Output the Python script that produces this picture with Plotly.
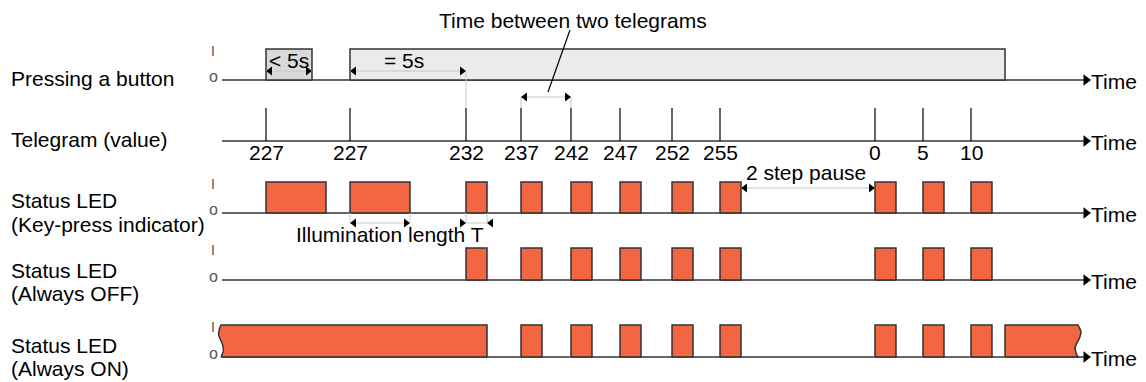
import numpy as np
import plotly.graph_objects as go

# telegram instants (time axis, diagram units) and the values sent
telegram_t = [266, 350, 466, 521, 571, 620, 672, 720, 875, 923, 971]
telegram_val = ["227", "227", "232", "237", "242", "247", "252", "255", "0", "5", "10"]

# button presses
press_start = [266, 350]
press_end = [312, 1005]

# status LED pulses
keypress_start = [266, 350, 466, 521, 571, 620, 672, 720, 875, 923, 971]
keypress_end = [326, 410, 487, 542, 592, 641, 693, 741, 896, 944, 992]
off_start = [466, 521, 571, 620, 672, 720, 875, 923, 971]
off_end = [487, 542, 592, 641, 693, 741, 896, 944, 992]
on_start = [521, 571, 620, 672, 720, 875, 923, 971]
on_end = [542, 592, 641, 693, 741, 896, 944, 992]
on_block_start = [221, 1005]
on_block_end = [487, 1078]

ORANGE = "#F26641"
EDGE = "#333333"
FONT = "Arial, Liberation Sans, sans-serif"
T0, T1 = 222, 1084
PAGE_PAD = 8  # browser body margin

# rows: (low level, high level)
rows = {"press": (80, 49), "tele": (141, 108), "key": (213, 182), "off": (280, 248), "on": (357, 325)}

fig = go.Figure()


def line(xs, ys, color=EDGE, width=1.5):
    fig.add_trace(go.Scatter(x=xs, y=ys, mode="lines", line=dict(color=color, width=width),
                             hoverinfo="skip", showlegend=False))


def pulses(starts, ends, row, fill=ORANGE):
    lo, hi = rows[row]
    xs, ys = [], []
    for s, e in zip(starts, ends):
        xs += [s, s, e, e, s, None]
        ys += [lo, hi, hi, lo, lo, None]
    fig.add_trace(go.Scatter(x=xs, y=ys, mode="lines", fill="toself", fillcolor=fill,
                             line=dict(color=EDGE, width=1.5), hoverinfo="skip", showlegend=False))


def heads(xs, ys, syms, size=8):
    fig.add_trace(go.Scatter(x=xs, y=ys, mode="markers",
                             marker=dict(symbol=syms, size=size, color="black", line=dict(width=0)),
                             hoverinfo="skip", showlegend=False))


def dim(x0, x1, y):
    line([x0, x1], [y, y], color="#c8c8c8", width=1)
    heads([x0 + 4, x1 - 4], [y, y], ["triangle-left", "triangle-right"])


def text(x, y, s, size=21, xanchor="left", color="black"):
    fig.add_annotation(x=x, y=y, text=s, showarrow=False, xanchor=xanchor, yanchor="middle",
                       font=dict(family=FONT, size=size, color=color))


# baselines with time arrows
for key, (lo, hi) in rows.items():
    line([T0, T1], [lo, lo])
    heads([T1 + 2], [lo], ["triangle-right"], size=10)
    text(1089, lo + 1, "Time")
    if key != "tele":
        text(213, hi + 2, "I", size=14, xanchor="center", color="#555")
        text(213, lo - 4, "o", size=16, xanchor="center", color="#555")

# button presses
pulses(press_start[:1], press_end[:1], "press", fill="#d9d9d9")
pulses(press_start[1:], press_end[1:], "press", fill="#ebebeb")
dim(press_start[0], press_end[0], 71)
text((press_start[0] + press_end[0]) / 2, 60, "< 5s", xanchor="center")
dim(press_start[1], telegram_t[2], 71)
text(404, 60, "= 5s", xanchor="center")
line([telegram_t[2], telegram_t[2]], [71, rows["tele"][1]], color="#c8c8c8", width=1)

# telegrams
lo, hi = rows["tele"]
xs, ys = [], []
for t in telegram_t:
    xs += [t, t, None]
    ys += [hi, lo, None]
line(xs, ys, color="black", width=1.2)
for t, v in zip(telegram_t, telegram_val):
    text(t, 152, v, xanchor="center")

# time between two telegrams
line([telegram_t[3], telegram_t[3], None, telegram_t[4], telegram_t[4]], [97, hi, None, 97, hi],
     color="#c8c8c8", width=1)
dim(telegram_t[3], telegram_t[4], 97)
line([570, 548], [30, 92], color="black", width=1.2)
text(573, 20, "Time between two telegrams", xanchor="center")

# key-press indicator LED
pulses(keypress_start, keypress_end, "key")
dim(keypress_start[1], keypress_end[1], 223)
line([keypress_start[1], keypress_start[1], None, keypress_end[1], keypress_end[1]],
     [213, 223, None, 213, 223], color="#c8c8c8", width=1)
line([keypress_start[2], keypress_start[2], None, keypress_end[2], keypress_end[2], None,
      keypress_start[2], keypress_end[2]],
     [213, 223, None, 213, 223, None, 223, 223], color="#c8c8c8", width=1)
heads([keypress_start[2] - 4, keypress_end[2] + 4], [223, 223], ["triangle-right", "triangle-left"])
text(294, 234, "Illumination length T")
dim(keypress_end[7], keypress_start[8], 188)
text(744, 172, "2 step pause")

# always off LED
pulses(off_start, off_end, "off")

# always on LED
pulses(on_start, on_end, "on")
lo, hi = rows["on"]
tt = np.linspace(0, 1, 13)
wave_l = on_block_start[0] - 2.5 * np.sin(2 * np.pi * tt)
wave_r = on_block_end[1] + 3 * np.sin(2 * np.pi * tt)
yy = hi + (lo - hi) * tt
fig.add_trace(go.Scatter(
    x=list(wave_l[::-1]) + [on_block_end[0], on_block_end[0], on_block_start[0]],
    y=list(yy[::-1]) + [hi, lo, lo], mode="lines", fill="toself", fillcolor=ORANGE,
    line=dict(color=EDGE, width=1.5), hoverinfo="skip", showlegend=False))
fig.add_trace(go.Scatter(
    x=[on_block_start[1], on_block_start[1]] + list(wave_r) + [on_block_start[1]],
    y=[lo, hi] + list(yy) + [lo], mode="lines", fill="toself", fillcolor=ORANGE,
    line=dict(color=EDGE, width=1.5), hoverinfo="skip", showlegend=False))

# row labels
LX = PAGE_PAD + 0.5
text(LX, 78, "Pressing a button")
text(LX, 139, "Telegram (value)")
text(LX, 200, "Status LED")
text(LX, 224, "(Key-press indicator)")
text(LX, 270, "Status LED")
text(LX, 293, "(Always OFF)")
text(LX, 345, "Status LED")
text(LX, 368, "(Always ON)")

fig.update_layout(
    width=1146 - PAGE_PAD, height=382 - PAGE_PAD,
    margin=dict(l=0, r=0, t=0, b=0),
    paper_bgcolor="white", plot_bgcolor="white",
    xaxis=dict(range=[PAGE_PAD, 1146], visible=False, fixedrange=True),
    yaxis=dict(range=[382, PAGE_PAD], visible=False, fixedrange=True),
)
fig.write_html("out.html")
